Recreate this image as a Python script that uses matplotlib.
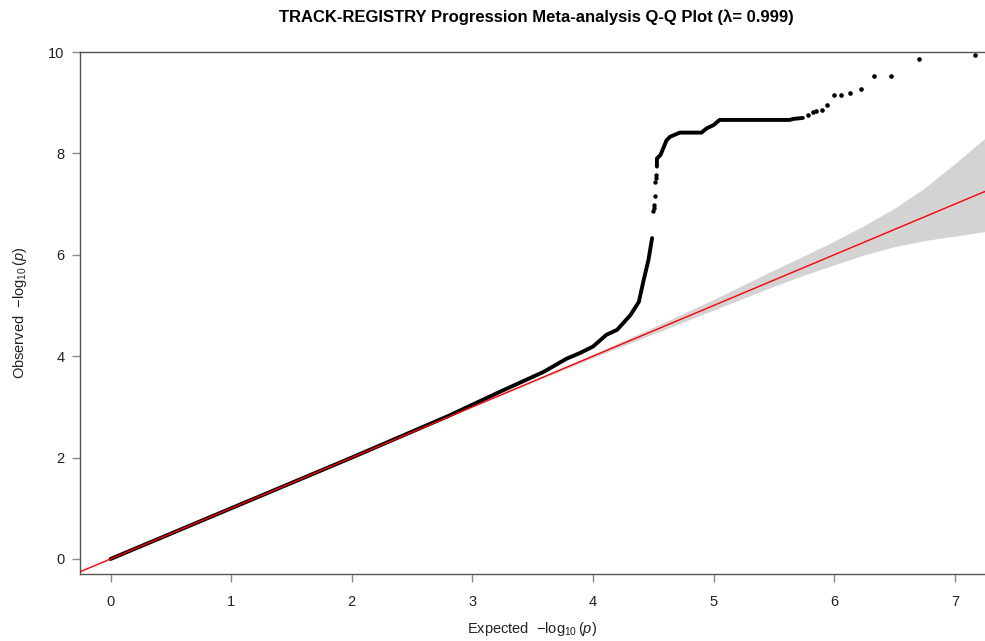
import numpy as np
import matplotlib
matplotlib.use("Agg")
import matplotlib.pyplot as plt

plt.rcParams['font.family'] = ['Liberation Sans', 'DejaVu Sans']
plt.rcParams['mathtext.fontset'] = 'custom'
plt.rcParams['mathtext.rm'] = 'Liberation Sans'
plt.rcParams['mathtext.it'] = 'Liberation Sans:italic'

# observed vs expected -log10(p)
# dense part of the curve (drawn as overlapping points -> thick line)
curve_lo_x = [0.0, 1.0, 2.0, 2.8, 3.23, 3.59, 3.78, 3.89, 4.00, 4.11, 4.20,
              4.31, 4.38, 4.42, 4.46, 4.49]
curve_lo_y = [0.0, 1.0, 2.0, 2.82, 3.30, 3.69, 3.95, 4.06, 4.19, 4.42, 4.52,
              4.81, 5.07, 5.50, 5.90, 6.33]

# scattered points in the steep gap
gap_x = [4.500, 4.502, 4.505, 4.510, 4.518, 4.520, 4.524]
gap_y = [6.86, 6.92, 6.98, 7.16, 7.44, 7.51, 7.57]

curve_hi_x = [4.53, 4.53, 4.56, 4.61, 4.64, 4.72, 4.90, 4.94, 5.00, 5.05, 5.63,
              5.66, 5.70, 5.74]
curve_hi_y = [7.74, 7.90, 7.97, 8.26, 8.33, 8.41, 8.41, 8.49, 8.56, 8.66, 8.66,
              8.68, 8.69, 8.70]

# top-most individual points
top_x = [5.78, 5.82, 5.85, 5.90, 5.94, 6.00, 6.06, 6.13, 6.22, 6.33, 6.47, 6.70, 7.17]
top_y = [8.76, 8.82, 8.84, 8.85, 8.95, 9.15, 9.15, 9.20, 9.28, 9.52, 9.52, 9.86, 9.95]

# 95% confidence band around the null line
band_x = [0.0, 1.0, 2.0, 3.0, 3.5, 4.0, 4.5, 5.0, 5.5, 5.75, 6.0, 6.25, 6.5,
          6.75, 7.0, 7.25]
band_upper = [0.0, 1.0, 2.003, 3.01, 3.52, 4.04, 4.57, 5.12, 5.70, 5.98, 6.27,
              6.58, 6.92, 7.32, 7.80, 8.30]
band_lower = [0.0, 1.0, 1.997, 2.99, 3.48, 3.97, 4.44, 4.91, 5.38, 5.60, 5.80,
              6.00, 6.16, 6.28, 6.37, 6.46]

lam = 0.999

fig = plt.figure(figsize=(9.85, 6.41), dpi=100)
ax = fig.add_axes([80 / 985, 67 / 641, 905 / 985, 522 / 641])

ax.fill_between(band_x, band_lower, band_upper, color='#d3d3d3', lw=0, zorder=1)

ax.plot(curve_lo_x, curve_lo_y, color='black', lw=2.8, solid_capstyle='round',
        solid_joinstyle='round', zorder=2)
ax.plot(curve_hi_x, curve_hi_y, color='black', lw=2.8, solid_capstyle='round',
        solid_joinstyle='round', zorder=2)
ax.scatter(gap_x, gap_y, s=10, color='black', lw=0, zorder=2)
ax.scatter(top_x, top_y, s=11, color='black', lw=0, zorder=2)

ax.axline((0, 0), slope=1, color='red', lw=1.0, zorder=3)

ax.set_xlim(-0.253, 7.25)
ax.set_ylim(-0.296, 10)
ax.set_xticks(range(0, 8))
ax.set_yticks(range(0, 11, 2))

ax.spines['right'].set_visible(False)
for s in ['left', 'bottom', 'top']:
    ax.spines[s].set_color('#555555')
    ax.spines[s].set_linewidth(1.0)
ax.tick_params(axis='both', length=6, width=1, color='#888888',
               labelsize=10.5, labelcolor='#222222')
ax.tick_params(axis='x', pad=9)
ax.tick_params(axis='y', pad=5)

ax.set_xlabel(r'Expected  $-\log_{10}(\mathit{p})$', fontsize=10.5, color='#222222', labelpad=8)
ax.set_ylabel(r'Observed  $-\log_{10}(\mathit{p})$', fontsize=10.5, color='#222222', labelpad=14)

fig.text(536 / 985, 1 - 17 / 641,
         'TRACK-REGISTRY Progression Meta-analysis Q-Q Plot (\u03bb= %.3f)' % lam,
         ha='center', va='center', fontsize=12, fontweight='bold')

fig.savefig('out.png', dpi=100)
